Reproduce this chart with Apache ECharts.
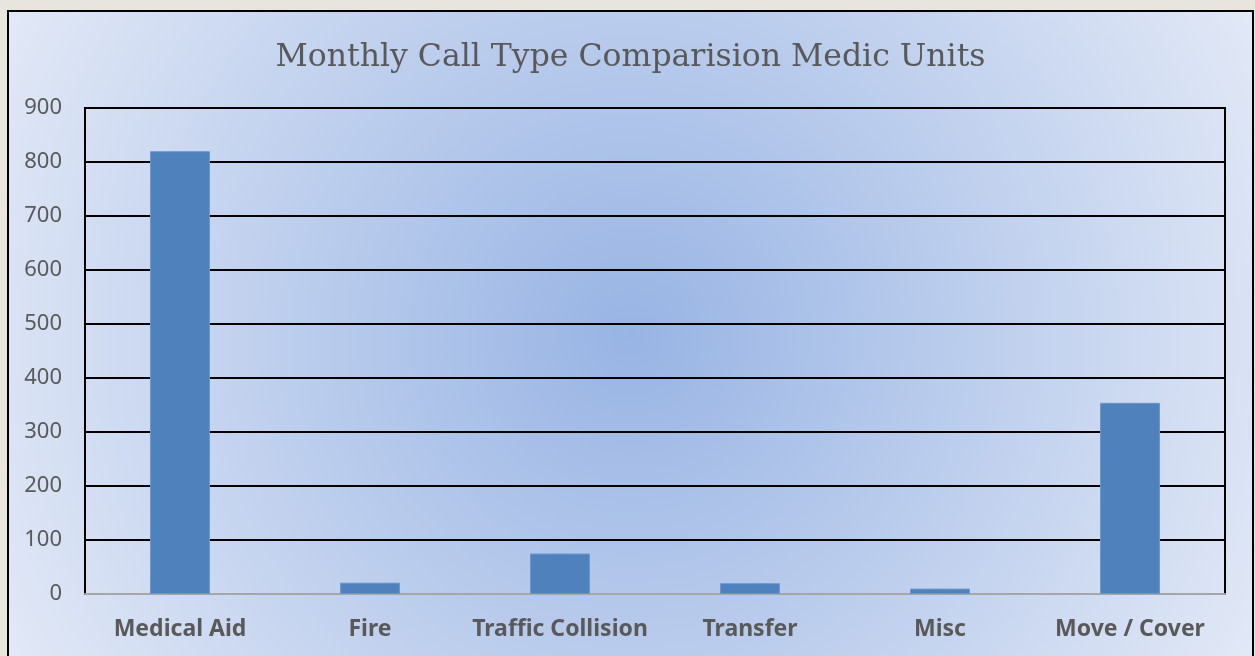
<!DOCTYPE html>
<html>
<head>
<meta charset="UTF-8">
<title>Monthly Call Type Comparision Medic Units</title>
<script src="https://cdn.jsdelivr.net/npm/echarts@6/dist/echarts.min.js"></script>
<style>
  html, body { margin: 0; padding: 0; width: 1255px; height: 656px; overflow: hidden; background: #e8e5de; }
  #chart { position: absolute; left: 7px; top: 10px; width: 1243px; height: 660px; border: 2px solid #000; }
</style>
</head>
<body>
<div id="chart"></div>
<script>
  // data
  const callTypes = ['Medical Aid', 'Fire', 'Traffic Collision', 'Transfer', 'Misc', 'Move / Cover'];
  const callCounts = [820, 21, 75, 20, 10, 354];
  const yTicks = [0, 100, 200, 300, 400, 500, 600, 700, 800, 900];

  const myChart = echarts.init(document.getElementById('chart'));
  const option = {
    animation: false,
    backgroundColor: {
      type: 'radial', x: 0.5, y: 0.49, r: 1.05,
      colorStops: [
        { offset: 0, color: '#98b4e4' },
        { offset: 1, color: '#e1e8f6' }
      ]
    },
    title: {
      text: 'Monthly Call Type Comparision Medic Units',
      left: 'center',
      top: 25,
      textStyle: { fontFamily: 'DejaVu Serif', fontWeight: 'normal', fontSize: 31.5, color: '#595959' }
    },
    grid: {
      left: 76, right: 27, top: 96, bottom: 78,
      show: true, borderColor: '#000', borderWidth: 2
    },
    xAxis: {
      type: 'category',
      data: callTypes,
      axisTick: { show: false },
      axisLine: { lineStyle: { color: '#a6a6a6', width: 2 } },
      axisLabel: { interval: 0, margin: 24, fontFamily: 'Noto Sans', fontWeight: 'bold', fontSize: 23, color: '#595959' }
    },
    yAxis: {
      type: 'value',
      min: yTicks[0],
      max: yTicks[yTicks.length - 1],
      interval: 100,
      axisLine: { show: false },
      axisTick: { show: false },
      splitLine: { lineStyle: { color: '#000', width: 2 } },
      axisLabel: { margin: 23, fontFamily: 'Noto Sans', fontSize: 22, color: '#595959' }
    },
    series: [{
      type: 'bar',
      data: callCounts,
      barWidth: '31.5%',
      itemStyle: { color: '#4f81bd', borderColor: '#6a95cb', borderWidth: 1 }
    }]
  };
  myChart.setOption(option);
</script>
</body>
</html>
